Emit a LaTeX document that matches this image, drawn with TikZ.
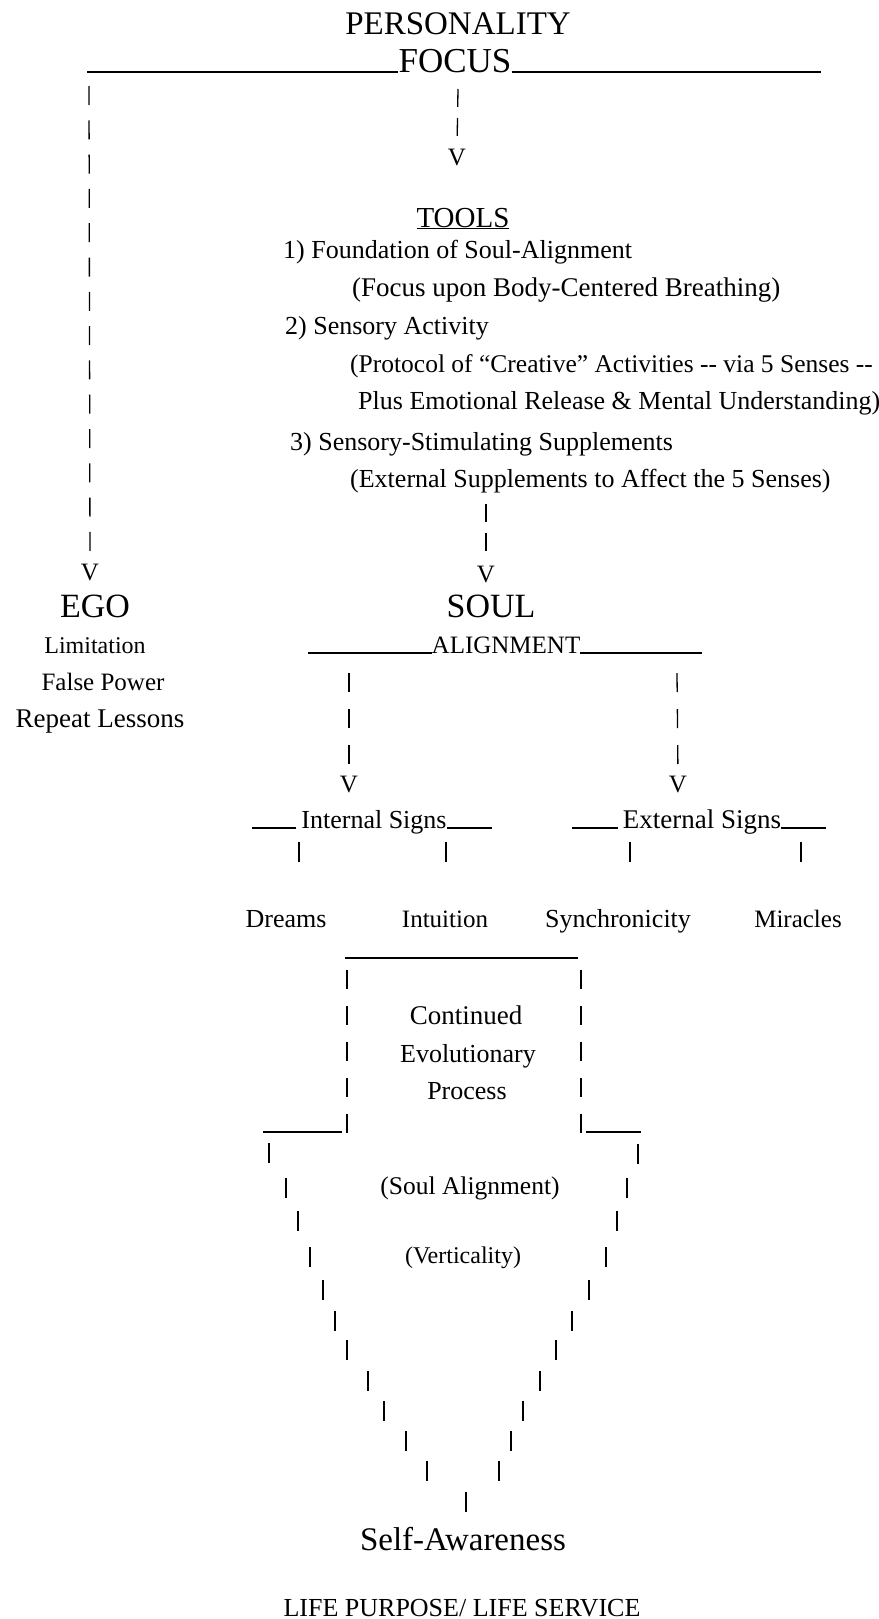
\documentclass[tikz,border=0pt]{standalone}
\usepackage{fontspec}
\setmainfont{Liberation Serif}
\usepackage{tikz}
\tikzset{
		wordnode/.style={inner sep=0pt, anchor=base, font=\fontsize{26}{30}\selectfont},
		lineword/.style={wordnode, anchor=base west},
		vtip/.style={wordnode, font=\fontsize{25}{28}\selectfont},
		ruleline/.style={line width=1.6pt},
		barmark/.style={line width=1.3pt},
		barrun/.style 2 args={barmark, dash pattern=on #1 off #2}
	}

\begin{document}
\begin{tikzpicture}[x=1pt, y=-1pt]
		\useasboundingbox (0,0) rectangle (878,1619);

		\node[wordnode, font=\fontsize{33}{36}\selectfont] (personality) at (458,35) {PERSONALITY};
		\node[wordnode, font=\fontsize{35}{38}\selectfont] (focus)       at (455,72) {FOCUS};
		\coordinate (focusL) at (87,72);
		\coordinate (focusR) at (821,72);
		\draw[ruleline] (focusL) -- (focus.base west);
		\draw[ruleline] (focus.base east) -- (focusR);

		\coordinate (egoTop) at (89,86);
		\node[vtip] (egoV) at (90,580) {V};
		\draw[barrun={19pt}{15.3pt}] (egoTop) -- (egoV.north);

		\coordinate (focusBar) at (458,89);
		\node[vtip] (focusV) at (457,165) {V};
		\draw[barrun={18pt}{11pt}, shorten >=4pt] (focusBar) -- (focusV.north);

		\node[wordnode, font=\fontsize{29}{32}\selectfont] (tools) at (463,227) {\underline{TOOLS}};
		\node[lineword] (toolA)  at (283,258) {1) Foundation of Soul-Alignment};
		\node[lineword, font=\fontsize{27}{30}\selectfont] (toolAb) at (352,296) {(Focus upon Body-Centered Breathing)};
		\node[lineword] (toolB)  at (285,334) {2) Sensory Activity};
		\node[lineword, font=\fontsize{25.5}{30}\selectfont] (toolBb) at (350,372) {(Protocol of “Creative” Activities -{}- via 5 Senses -{}-};
		\node[lineword] (toolBc) at (358,409) {Plus Emotional Release \& Mental Understanding)};
		\node[lineword] (toolC)  at (290,450) {3) Sensory-Stimulating Supplements};
		\node[lineword] (toolCb) at (350,487) {(External Supplements to Affect the 5 Senses)};

		\coordinate (soulBar) at (486,504);
		\node[vtip] (soulV) at (486,582) {V};
		\draw[barrun={18pt}{11pt}, shorten >=6pt] (soulBar) -- (soulV.north);

		\node[wordnode, font=\fontsize{34}{38}\selectfont] (ego) at (95,617)  {EGO};
		\node[wordnode, font=\fontsize{24}{28}\selectfont] (limit) at (95,653)  {Limitation};
		\node[wordnode, font=\fontsize{25}{29}\selectfont] (power) at (103,690) {False Power};
		\node[wordnode, font=\fontsize{27}{30}\selectfont] (repeat) at (100,727) {Repeat Lessons};

		\node[wordnode, font=\fontsize{34}{38}\selectfont] (soul)      at (491,617) {SOUL};
		\node[wordnode, font=\fontsize{25}{29}\selectfont] (alignment) at (506,653) {ALIGNMENT};
		\coordinate (alignL) at (308,653);
		\coordinate (alignR) at (702,653);
		\draw[ruleline] (alignL) -- (alignment.base west);
		\draw[ruleline] (alignment.base east) -- (alignR);

		\coordinate (innerBar) at (349,673);
		\node[vtip] (innerV) at (349,792) {V};
		\draw[barrun={19pt}{17pt}] (innerBar) -- (innerV.north);
		\coordinate (outerBar) at (677,673);
		\node[vtip] (outerV) at (678,792) {V};
		\draw[barrun={19pt}{17pt}] (outerBar) -- (outerV.north);

		\node[wordnode] (internal) at (374,828) {Internal Signs};
		\coordinate (internalL) at (252,828);
		\coordinate (internalR) at (492,828);
		\draw[ruleline] (internalL) -- ([xshift=-5pt]internal.base west);
		\draw[ruleline] (internal.base east) -- (internalR);
		\node[wordnode, font=\fontsize{27}{30}\selectfont] (external) at (702,828) {External Signs};
		\coordinate (externalL) at (572,828);
		\coordinate (externalR) at (826,828);
		\draw[ruleline] (externalL) -- ([xshift=-5pt]external.base west);
		\draw[ruleline] (external.base east) -- (externalR);

		\foreach \x in {299,446,630,801}
			\draw[barmark] (\x,842) -- (\x,862);

		\node[wordnode] (dreams)    at (286,927) {Dreams};
		\node[wordnode, font=\fontsize{25}{29}\selectfont] (intuition) at (445,927) {Intuition};
		\node[wordnode] (synchro)   at (618,927) {Synchronicity};
		\node[wordnode, font=\fontsize{25}{29}\selectfont] (miracles)  at (798,927) {Miracles};

		\coordinate (boxTL) at (345,958);
		\coordinate (boxTR) at (578,958);
		\draw[ruleline] (boxTL) -- (boxTR);
		\coordinate (boxL)  at (347,970);
		\coordinate (boxLb) at (347,1133);
		\coordinate (boxR)  at (581,970);
		\coordinate (boxRb) at (581,1133);
		\draw[barrun={19pt}{17pt}] (boxL) -- (boxLb);
		\draw[barrun={19pt}{17pt}] (boxR) -- (boxRb);
		\coordinate (funnelL) at (263,1132);
		\coordinate (funnelR) at (641,1132);
		\draw[ruleline] (funnelL) -- (342,1132);
		\draw[ruleline] (586,1132) -- (funnelR);

		\node[wordnode, font=\fontsize{27}{30}\selectfont] (continued) at (466,1024) {Continued};
		\node[wordnode] (evolution) at (468,1062) {Evolutionary};
		\node[wordnode] (process)   at (467,1099) {Process};

		\foreach \x/\y in {269/1153, 286/1188, 298/1221, 310/1257, 323/1290, 335/1321,
				347/1350, 368/1381, 384/1411, 406/1441, 427/1471, 466/1502,
				499/1471, 511/1441, 523/1411, 540/1381, 556/1350, 572/1321,
				589/1290, 606/1257, 617/1221, 627/1188, 638/1154}
			\draw[barmark] ({\x},{\y-10}) -- ({\x},{\y+10});

		\node[wordnode, font=\fontsize{25.5}{30}\selectfont] (soulalign) at (470,1194) {(Soul Alignment)};
		\node[wordnode, font=\fontsize{24}{28}\selectfont] (vertical)  at (463,1263) {(Verticality)};

		\node[wordnode, font=\fontsize{33}{36}\selectfont] (selfaware) at (463,1550) {Self-Awareness};
		\node[wordnode] (purpose) at (462,1616) {LIFE PURPOSE/ LIFE SERVICE};
	\end{tikzpicture}
\end{document}
